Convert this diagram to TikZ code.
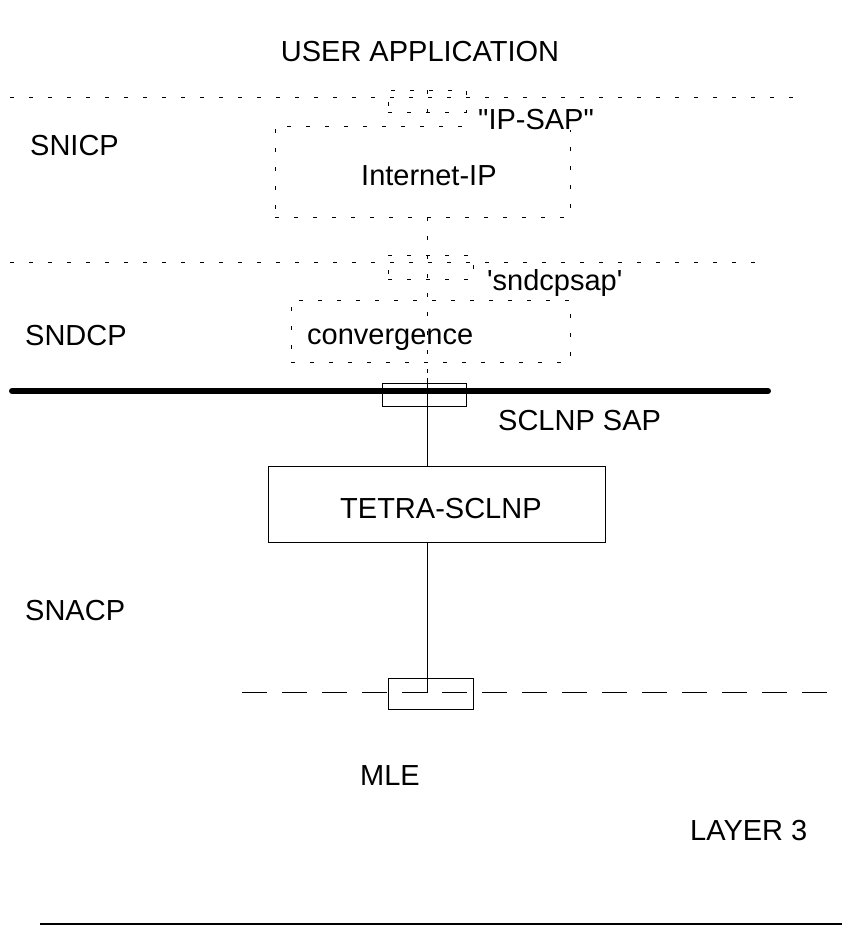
\documentclass[tikz,border=0pt]{standalone}
\usepackage{fontspec}
\setmainfont{Liberation Sans}[Ligatures=TeXOff]
\begin{document}
\begin{tikzpicture}[x=1pt,y=-1pt,
  lbl/.style={font=\fontsize{29}{32}\selectfont, inner sep=0pt, anchor=base west},
  dotbox/.style={draw, dash pattern=on 4pt off 15pt, line width=0.9pt, rectangle, inner sep=0pt},
  solbox/.style={draw, line width=0.9pt, rectangle, inner sep=0pt},
  dotline/.style={dash pattern=on 4pt off 15pt, line width=0.9pt},
  solline/.style={line width=0.9pt}]
\useasboundingbox (0,0) rectangle (842,926);
% horizontal layer lines
\coordinate (l1a) at (10,97); \coordinate (l1b) at (795,97);
\draw[dotline] (l1a) -- (l1b);
\coordinate (l2a) at (10,262); \coordinate (l2b) at (760,262);
\draw[dotline] (l2a) -- (l2b);
\coordinate (l3a) at (12,391); \coordinate (l3b) at (768,391);
\draw[line width=6pt, line cap=round] (l3a) -- (l3b);
\coordinate (l4a) at (242,692); \coordinate (l4b) at (830,692);
\draw[line width=0.9pt, dash pattern=on 25pt off 15pt] (l4a) -- (l4b);
\coordinate (l5a) at (40,924); \coordinate (l5b) at (842,924);
\draw[line width=2.5pt] (l5a) -- (l5b);
% boxes
\node[dotbox, minimum width=78pt, minimum height=22pt] (ipsap) at (427,101) {};
\node[dotbox, minimum width=295pt, minimum height=91pt] (inet) at (422.5,171.5) {};
\node[dotbox, minimum width=85pt, minimum height=24pt] (sndsap) at (430.5,267) {};
\node[dotbox, minimum width=279pt, minimum height=62pt] (conv) at (430.5,331) {};
\node[solbox, minimum width=84pt, minimum height=23pt] (sclsap) at (424,394.5) {};
\node[solbox, minimum width=337pt, minimum height=76pt] (tetra) at (436.5,504) {};
\node[solbox, minimum width=85pt, minimum height=31pt] (mlebox) at (430.5,693.5) {};
% vertical connectors
\coordinate (v0) at (427,90);
\coordinate (v1) at (427,378);
\coordinate (v2) at (427,693);
\draw[dotline] (v0) -- (inet.north -| v0);
\draw[dotline] (inet.south -| v0) -- (v1);
\draw[solline] (v1) -- (tetra.north -| v1);
\draw[solline] (tetra.south -| v1) -- (v2);
% text labels
\node[lbl, anchor=base] (ua) at (420,61) {USER APPLICATION};
\node[lbl] (snicp) at (30,155) {SNICP};
\node[lbl] (sndcp) at (25,345) {SNDCP};
\node[lbl] (snacp) at (25,620) {SNACP};
\node[lbl] (mle) at (360,785) {MLE};
\node[lbl] (l3) at (690,840) {LAYER 3};
\node[lbl] (inettxt) at (361,185) {Internet-IP};
\node[lbl, fill=white, inner sep=1pt] (ipsaptxt) at (477,129) {"IP-SAP"};
\node[lbl] (sndsaptxt) at (487,290) {'sndcpsap'};
\node[lbl] (convtxt) at (307,344) {convergence};
\node[lbl] (scltxt) at (498,430) {SCLNP SAP};
\node[lbl] (tetratxt) at (340,518) {TETRA-SCLNP};
\end{tikzpicture}
\end{document}
